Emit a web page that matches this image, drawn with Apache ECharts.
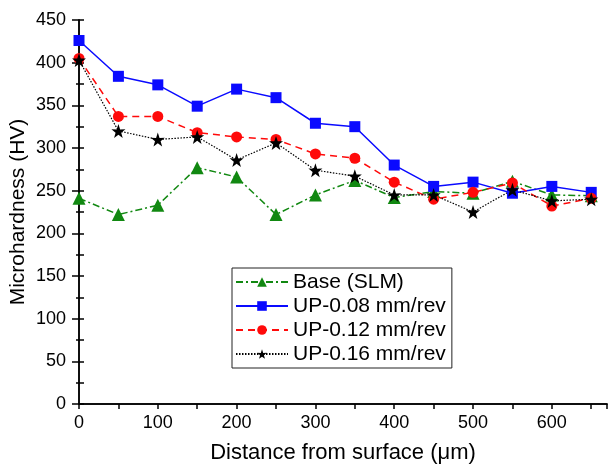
<!DOCTYPE html>
<html><head><meta charset="utf-8">
<script src="https://cdn.jsdelivr.net/npm/echarts@6/dist/echarts.min.js"></script>
<style>html,body{margin:0;padding:0;background:#fff}#c{width:612px;height:464px}</style>
</head><body><div id="c"></div>
<script>
const distances = [0,50,100,150,200,250,300,350,400,450,500,550,600,650];
const base = [241,222,233,277,266,222,245,262,242,249,247,261,245,244];
const up008 = [426,384,374,349,369,359,329,325,280,255,260,247,255,248];
const up012 = [405,337,337,318,313,310,293,288,260,240,248,259,232,241];
const up016 = [403,320,310,313,286,306,274,267,245,245,225,251,238,240];
const names = ['Base (SLM)','UP-0.08 mm/rev','UP-0.12 mm/rev','UP-0.16 mm/rev'];
const xTicks = [0,100,200,300,400,500,600];

const star = 'path://M50,0 L61.8,35.3 L97.6,34.5 L69.1,56.2 L79.4,90.5 L50,70 L20.6,90.5 L30.9,56.2 L2.4,34.5 L38.2,35.3 Z';
const pair = arr => distances.map((d,i)=>[d,arr[i]]);
const font = 'Liberation Sans, Arial, sans-serif';

const chart = echarts.init(document.getElementById('c'));
chart.setOption({
  animation:false,
  backgroundColor:'#fff',
  grid:{left:79,right:5,top:20,bottom:60,containLabel:false,outerBoundsMode:'none'},
  legend:{
    orient:'vertical', left:232, top:268, padding:[2,6,2,3],
    borderColor:'#222', borderWidth:1, itemGap:0, itemWidth:52, itemHeight:12,
    textStyle:{fontFamily:font,fontSize:21,color:'#000',lineHeight:24},
    data:names
  },
  xAxis:[{
    type:'value', min:0, max:670, interval:100, position:'bottom',
    axisLine:{lineStyle:{color:'#000',width:1.5}},
    axisTick:{inside:false,length:5,lineStyle:{color:'#000',width:1.5}},
    minorTick:{show:true,splitNumber:2,length:3,lineStyle:{color:'#000',width:1.5}},
    splitLine:{show:false},
    axisLabel:{fontFamily:font,fontSize:18,color:'#000',margin:10,
      formatter:v=>xTicks.includes(v)?String(v):''},
    name:'Distance from surface (μm)', nameLocation:'middle', nameGap:38,
    nameTextStyle:{fontFamily:font,fontSize:22,color:'#000'}
  },{
    type:'value', min:0, max:670, interval:50, position:'top',
    axisLine:{show:true,lineStyle:{color:'#000',width:1.5}},
    axisTick:{inside:true,length:5,lineStyle:{color:'#000',width:1.5}},
    axisLabel:{show:false}, splitLine:{show:false}
  }],
  yAxis:[{
    type:'value', min:0, max:450, interval:50, position:'left',
    axisLine:{show:true,lineStyle:{color:'#000',width:1.5}},
    axisTick:{show:true,length:7,lineStyle:{color:'#000',width:1.5}},
    minorTick:{show:true,splitNumber:2,length:3,lineStyle:{color:'#000',width:1.5}},
    splitLine:{show:false},
    axisLabel:{fontFamily:font,fontSize:18,color:'#000',margin:13},
    name:'Microhardness (HV)', nameLocation:'middle', nameGap:50, nameMoveOverlap:false,
    nameTextStyle:{fontFamily:font,fontSize:21,color:'#000'}
  },{
    type:'value', min:0, max:450, interval:25, position:'right',
    axisLine:{show:true,lineStyle:{color:'#000',width:1.5}},
    axisTick:{show:true,inside:false,length:5,lineStyle:{color:'#000',width:1.5}},
    axisLabel:{show:false}, splitLine:{show:false}
  }],
  series:[
    {name:names[0],type:'line',data:pair(base),symbol:'triangle',symbolSize:13,
     itemStyle:{color:'#118811'},lineStyle:{color:'#118811',width:1.5,type:[7,3,2,3]}},
    {name:names[1],type:'line',data:pair(up008),symbol:'rect',symbolSize:11,
     itemStyle:{color:'#0a0aff'},lineStyle:{color:'#0a0aff',width:1.5,type:'solid'}},
    {name:names[2],type:'line',data:pair(up012),symbol:'circle',symbolSize:11,
     itemStyle:{color:'#ff0a0a'},lineStyle:{color:'#ff0a0a',width:1.5,type:[7,5]}},
    {name:names[3],type:'line',data:pair(up016),symbol:star,symbolSize:14,
     itemStyle:{color:'#000'},lineStyle:{color:'#000',width:1.2,type:[1.5,1.5]}}
  ]
});
</script></body></html>
